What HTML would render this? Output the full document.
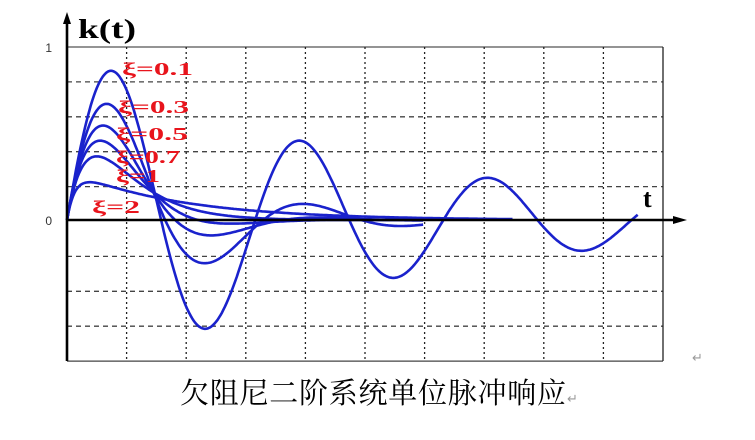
<!DOCTYPE html>
<html><head><meta charset="utf-8"><style>
html,body{margin:0;padding:0;background:#fff;width:755px;height:440px;overflow:hidden}
svg{display:block}
</style></head><body>
<svg id="chart" width="755" height="440" viewBox="0 0 755 440" xmlns="http://www.w3.org/2000/svg">
<g id="grid"></g>
<g id="curves"></g>
<g id="axes"></g>
<g id="labels"></g>
</svg>
<script>
// chart data
const zetas = [0.1, 0.3, 0.5, 0.7, 1, 2];
const zetaLabels = ["ξ=0.1", "ξ=0.3", "ξ=0.5", "ξ=0.7", "ξ=1", "ξ=2"];
const tEnd = [19.2, 12, 12, 12, 12, 15];
const omegaN = [1];
const yTickLabels = ["0", "1"];
const yTickValues = [0, 1];

const NS = "http://www.w3.org/2000/svg";
const X0 = 67, Y0 = 220, PXT = 29.8, PXY = 173;
const xs = t => X0 + t * PXT;
const ys = v => Y0 - v * PXY;
function mk(tag, attrs, parent){const e=document.createElementNS(NS,tag);for(const k in attrs)e.setAttribute(k,attrs[k]);parent.appendChild(e);return e;}

const gridG = document.getElementById('grid');
for(let i=1;i<=9;i++){
  const y = 47 + i*34.9;
  if(i===5) continue;
  const l = mk('line',{x1:67,x2:663,y1:y,y2:y,stroke:'#444','stroke-width':1.3,'stroke-dasharray':i===9?'none':'5,4'},gridG);
  
  
}
const plotTop = mk('line',{x1:67,x2:663,y1:47,y2:47,stroke:'#555','stroke-width':1.2},gridG);


for(let i=1;i<=10;i++){
  const x = 67 + i*59.6;
  const l = mk('line',{x1:x,x2:x,y1:47,y2:361,stroke:'#222','stroke-width':1.3,'stroke-dasharray':i===10?'none':'2,3'},gridG);
  
  
}

const curvesG = document.getElementById('curves');
zetas.forEach((z,i)=>{
  const wn = omegaN[0];
  let d = '';
  for(let t=0;t<=tEnd[i];t+=0.05){
    let k;
    if(z<1){const wd=wn*Math.sqrt(1-z*z);k=wn/Math.sqrt(1-z*z)*Math.exp(-z*wn*t)*Math.sin(wd*t);}
    else if(z===1){k=wn*wn*t*Math.exp(-wn*t);}
    else {const s=Math.sqrt(z*z-1);k=wn/(2*s)*(Math.exp(-(z-s)*wn*t)-Math.exp(-(z+s)*wn*t));}
    d += (d?'L':'M') + xs(t).toFixed(1) + ',' + ys(k).toFixed(1);
  }
  const p = mk('path',{d:d,fill:'none',stroke:'#1a22cc','stroke-width':2.6,'stroke-linejoin':'round'},curvesG);
  
  
});

const axesG = document.getElementById('axes');
const ya = mk('line',{x1:67,x2:67,y1:361,y2:20,stroke:'#000','stroke-width':2.6},axesG);


const yarr = mk('polygon',{points:'67,12 63,24 71,24',fill:'#000'},axesG);


const xa = mk('line',{x1:67,x2:678,y1:220,y2:220,stroke:'#000','stroke-width':2.6},axesG);


const xarr = mk('polygon',{points:'687,220 673,216 673,224',fill:'#000'},axesG);


yTickValues.forEach((v,i)=>{
  const t = mk('text',{x:52,y:ys(v)+5,'font-family':'Liberation Sans, sans-serif','font-size':12,'text-anchor':'end',fill:'#333'},axesG);
  t.textContent = yTickLabels[i];
  
  
});
const kt = mk('text',{x:78,y:38,'font-family':'Liberation Serif, serif','font-size':27,'font-weight':'bold',fill:'#000',textLength:58,lengthAdjust:'spacingAndGlyphs'},axesG);
kt.textContent='k(t)';


const tt = mk('text',{x:643,y:207,'font-family':'Liberation Serif, serif','font-size':26,'font-weight':'bold',fill:'#000'},axesG);
tt.textContent='t';



const labelsG = document.getElementById('labels');
const lpos = [[122,75,71],[118,113,71],[116,140,72],[116,163,64],[116,182,44],[92,213,48]];
zetaLabels.forEach((s,i)=>{
  const t = mk('text',{x:lpos[i][0],y:lpos[i][1],'font-family':'Liberation Serif, serif','font-size':18,'font-weight':'bold',fill:'#e8141c',textLength:lpos[i][2],lengthAdjust:'spacingAndGlyphs'},labelsG);
  t.textContent = s;
  
  
});

const svgRoot = document.getElementById('chart');
const cap = mk('text',{x:180,y:403,'font-family':'Liberation Serif, "Noto Serif CJK SC", serif','font-size':29,fill:'#000',textLength:386},svgRoot);
cap.textContent='欠阻尼二阶系统单位脉冲响应';


const m1 = mk('text',{x:567,y:403,'font-family':'DejaVu Sans, sans-serif','font-size':13,fill:'#999'},svgRoot);
m1.textContent='↵';


const m2 = mk('text',{x:692,y:362,'font-family':'DejaVu Sans, sans-serif','font-size':13,fill:'#999'},svgRoot);
m2.textContent='↵';


</script>
</body></html>
